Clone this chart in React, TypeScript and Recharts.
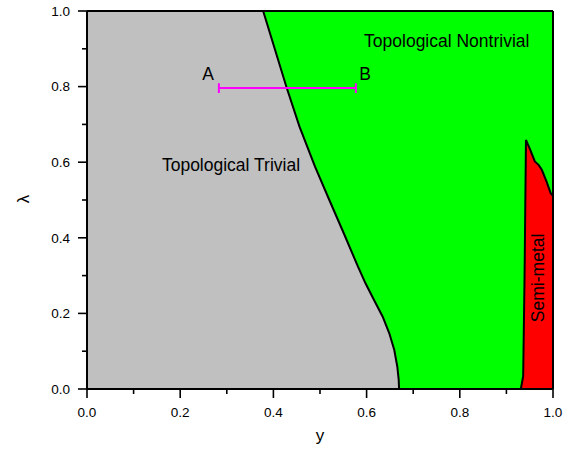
import React from 'react';
import {
  ComposedChart,
  Area,
  XAxis,
  YAxis,
  CartesianGrid,
  ReferenceLine,
  ReferenceDot,
  Label,
} from 'recharts';

// Phase boundary between "Topological Trivial" (left, gray) and "Nontrivial" (green)
const boundaryY = [0, 0.378, 0.4285, 0.456, 0.4893, 0.52, 0.551, 0.5815, 0.5976, 0.6159, 0.6345, 0.6487, 0.6594, 0.6659, 0.6689, 0.6697];
const boundaryLam = [1, 1, 0.797, 0.694, 0.588, 0.5, 0.412, 0.3235, 0.2796, 0.2354, 0.1913, 0.1474, 0.1032, 0.059, 0.024, 0];

// Semi-metal region (red)
const semiY = [0.931, 0.936, 0.939, 0.942, 0.951, 0.961, 0.969, 0.976, 0.986, 0.995, 1.0];
const semiLam = [0, 0.034, 0.3, 0.659, 0.633, 0.602, 0.593, 0.58, 0.549, 0.518, 0.511];

// Path A -> B (magenta segment)
const pathY = [0.283, 0.577];
const pathLam = 0.796;
const capHalf = 0.013;

// Tick values
const ticks = [0, 0.1, 0.2, 0.3, 0.4, 0.5, 0.6, 0.7, 0.8, 0.9, 1.0];

// Annotations
const annotations = [
  { text: 'Topological Trivial', y: 0.309, lam: 0.594, angle: 0 },
  { text: 'Topological Nontrivial', y: 0.772, lam: 0.9226, angle: 0 },
  { text: 'A', y: 0.26, lam: 0.833, angle: 0 },
  { text: 'B', y: 0.597, lam: 0.833, angle: 0 },
  { text: 'Semi-metal', y: 0.967, lam: 0.294, angle: -90 },
];

const FONT = '"Liberation Sans", Arial, Helvetica, sans-serif';

type Row = { x: number; trivial?: number; semi?: number };
const rows: Row[] = [];
boundaryY.forEach((x, i) => rows.push({ x, trivial: boundaryLam[i] }));
semiY.forEach((x, i) => rows.push({ x, semi: semiLam[i] }));
rows.sort((a, b) => a.x - b.x);

const isMajor = (v: number) => Math.round(v * 10) % 2 === 0;

const BottomTick = (props: any) => {
  const { x, y, payload } = props;
  const major = isMajor(payload.value);
  return (
    <g>
      <line x1={x} x2={x} y1={y} y2={y + (major ? 9 : 5)} stroke="#000" strokeWidth={1.6} />
      {major && (
        <text x={x} y={y + 28} textAnchor="middle" fontSize={13.5} fontFamily={FONT} fill="#000">
          {Number(payload.value).toFixed(1)}
        </text>
      )}
    </g>
  );
};

const LeftTick = (props: any) => {
  const { x, y, payload } = props;
  const major = isMajor(payload.value);
  return (
    <g>
      <line x1={x} x2={x - (major ? 9 : 5)} y1={y} y2={y} stroke="#000" strokeWidth={1.6} />
      {major && (
        <text x={x - 17} y={y} dy="0.36em" textAnchor="end" fontSize={13.5} fontFamily={FONT} fill="#000">
          {Number(payload.value).toFixed(1)}
        </text>
      )}
    </g>
  );
};

const LamLabel = (props: any) => {
  const vb = props.viewBox || { x: 0, y: 11, width: 87, height: 378 };
  const cx = vb.x + 23;
  const cy = vb.y + vb.height / 2 - 1;
  return (
    <text
      x={cx}
      y={cy}
      transform={`rotate(-90 ${cx} ${cy})`}
      textAnchor="middle"
      dominantBaseline="central"
      fontSize={17}
      fontFamily={FONT}
      fill="#000"
    >
      λ
    </text>
  );
};

const YLabel = (props: any) => {
  const vb = props.viewBox || { x: 87, y: 389, width: 466, height: 64 };
  const cx = vb.x + vb.width / 2;
  return (
    <text x={cx} y={vb.y + 52} textAnchor="middle" fontSize={17} fontFamily={FONT} fill="#000">
      y
    </text>
  );
};

const makeAnnot = (text: string, angle: number) => (props: any) => {
  const vb = props.viewBox;
  const cx = vb.x + (vb.width || 0) / 2;
  const cy = vb.y + (vb.height || 0) / 2;
  return (
    <text
      x={cx}
      y={cy}
      dy="0.36em"
      transform={angle ? `rotate(${angle} ${cx} ${cy})` : undefined}
      textAnchor="middle"
      fontSize={17.5}
      fontFamily={FONT}
      fill="#000"
    >
      {text}
    </text>
  );
};

export default function App() {
  return (
    <div style={{ position: 'absolute', left: 0, top: 0 }}>
      <ComposedChart
        width={577}
        height={453}
        data={rows}
        margin={{ top: 7, right: 20, bottom: 0, left: 0 }}
      >
        <CartesianGrid horizontal={false} vertical={false} fill="#00ff00" fillOpacity={1} />
        <XAxis
          dataKey="x"
          type="number"
          domain={[0, 1]}
          allowDataOverflow
          ticks={ticks}
          interval={0}
          height={64}
          tickSize={0}
          tickMargin={0}
          tickLine={false}
          tick={<BottomTick />}
          axisLine={{ stroke: '#000', strokeWidth: 2 }}
          label={<Label content={YLabel} />}
        />
        <XAxis
          xAxisId="top"
          orientation="top"
          dataKey="x"
          type="number"
          domain={[0, 1]}
          allowDataOverflow
          ticks={ticks}
          interval={0}
          height={4}
          tickSize={3}
          tick={false}
          tickLine={{ stroke: '#000', strokeWidth: 1.4 }}
          axisLine={{ stroke: '#000', strokeWidth: 2 }}
        />
        <YAxis
          type="number"
          domain={[0, 1]}
          allowDataOverflow
          ticks={ticks}
          interval={0}
          width={87}
          tickSize={0}
          tickMargin={0}
          tickLine={false}
          tick={<LeftTick />}
          axisLine={{ stroke: '#000', strokeWidth: 2 }}
          label={<Label content={LamLabel} />}
        />
        <YAxis
          yAxisId="right"
          orientation="right"
          type="number"
          domain={[0, 1]}
          allowDataOverflow
          ticks={ticks}
          interval={0}
          width={4}
          tickSize={3}
          tick={false}
          tickLine={{ stroke: '#000', strokeWidth: 1.4 }}
          axisLine={{ stroke: '#000', strokeWidth: 2 }}
        />
        <Area
          dataKey="trivial"
          type="linear"
          fill="#c0c0c0"
          fillOpacity={1}
          stroke="#000"
          strokeWidth={2}
          baseValue={0}
          dot={false}
          activeDot={false}
          connectNulls={false}
          isAnimationActive={false}
        />
        <Area
          dataKey="semi"
          type="linear"
          fill="#ff0000"
          fillOpacity={1}
          stroke="#000"
          strokeWidth={2}
          baseValue={0}
          dot={false}
          activeDot={false}
          connectNulls={false}
          isAnimationActive={false}
        />
        <ReferenceLine
          segment={[
            { x: pathY[0], y: pathLam },
            { x: pathY[1], y: pathLam },
          ]}
          stroke="#ff00ff"
          strokeOpacity={1}
          strokeWidth={2}
        />
        {pathY.map((px) => (
          <ReferenceLine
            key={'cap' + px}
            segment={[
              { x: px, y: pathLam - capHalf },
              { x: px, y: pathLam + capHalf },
            ]}
            stroke="#ff00ff"
            strokeOpacity={1}
            strokeWidth={2}
          />
        ))}
        {annotations.map((a) => (
          <ReferenceDot
            key={a.text}
            x={a.y}
            y={a.lam}
            r={0}
            fill="none"
            stroke="none"
            label={<Label content={makeAnnot(a.text, a.angle)} />}
          />
        ))}
      </ComposedChart>
    </div>
  );
}
